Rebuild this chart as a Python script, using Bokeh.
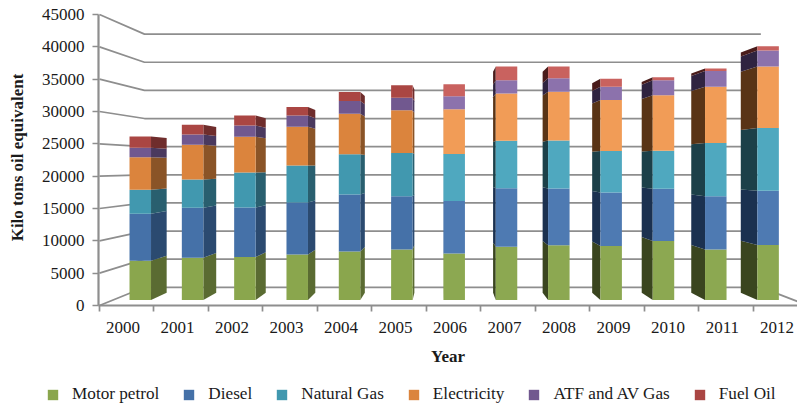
from bokeh.plotting import figure
from bokeh.layouts import column
from bokeh.models import ColumnDataSource, LinearAxis, FixedTicker, Range1d, Legend, LegendItem
from bokeh.embed import file_html
from bokeh.resources import INLINE

years = [str(y) for y in range(2000, 2013)]
motor_petrol = [6298, 6779, 6891, 7324, 7805, 8125, 7484, 8542, 8814, 8702, 9503, 8125, 8862]
diesel       = [7596, 8077, 8013, 8382, 9183, 8590, 8430, 9455, 9135, 8606, 8398, 8590, 8718]
natural_gas  = [3846, 4535, 5609, 5930, 6458, 6955, 7596, 7644, 7741, 6683, 6138, 8558, 10096]
electricity  = [5224, 5609, 5769, 6250, 6523, 6891, 7212, 7612, 7853, 8221, 8926, 9071, 9936]
atf_av_gas   = [1555, 1651, 1811, 1811, 2083, 2019, 2083, 2115, 2148, 2131, 2404, 2516, 2564]
fuel_oil     = [1811, 1555, 1603, 1394, 1442, 1987, 1923, 2212, 1923, 1282, 481, 433, 689]

series = [
    ("Motor petrol", motor_petrol),
    ("Diesel", diesel),
    ("Natural Gas", natural_gas),
    ("Electricity", electricity),
    ("ATF and AV Gas", atf_av_gas),
    ("Fuel Oil", fuel_oil),
]
y_ticks = list(range(0, 45001, 5000))

front_left  = ["#8aa64d", "#4571a8", "#4198af", "#db843d", "#71588f", "#aa4643"]
front_right = ["#8ca851", "#4e7ab2", "#4fa8bf", "#f19c57", "#8c72ac", "#c9625f"]
side_left   = ["#5a6b32", "#2b4a70", "#295f6f", "#8a5427", "#4a395e", "#6f2d2c"]
side_right  = ["#3a451f", "#1b3150", "#1c4049", "#593416", "#2f2340", "#4a1c1b"]
GRID = "#8e8e8e"
FONT = "Liberation Serif"
INK = "#1a1a1a"

# perspective of the 3D box, in data units of the front plane
VX, VY = 6.35, 21640
T_BACK_WALL, T_BAR_FRONT, T_BAR_BACK = 0.13, 0.04, 0.091
BAR_W, BAR_OFF = 0.411, 0.515
N = len(years)

def proj(u, v, t):
    return u + (VX - u) * t, v + (VY - v) * t

p = figure(width=797, height=375, output_backend="svg", toolbar_location=None,
           x_range=Range1d(-0.018, -0.018 + 699 / 54.5), y_range=Range1d(0, 45773),
           min_border_left=98, min_border_right=0, min_border_top=9, min_border_bottom=70,
           x_axis_location=None, y_axis_location=None, outline_line_color=None)
p.grid.visible = False
p.background_fill_color = None
p.border_fill_color = "white"

# walls and floor
wx, wy = [], []
for v in y_ticks:
    a, b, c = proj(0, v, 0), proj(0, v, T_BACK_WALL), proj(N, v, T_BACK_WALL)
    wx.append([a[0], b[0], c[0]])
    wy.append([a[1], b[1], c[1]])
c, d = proj(N, 0, T_BACK_WALL), proj(N, 0, 0)
wx.append([c[0], d[0]])
wy.append([c[1], d[1]])
p.multi_line(wx, wy, line_color=GRID, line_width=1.7)

# bars
bottom = [0] * N
for k, (name, vals) in enumerate(series):
    fx, fy, fc, sx, sy, sc = [], [], [], [], [], []
    for i in range(N):
        lo, hi = bottom[i], bottom[i] + vals[i]
        c0 = i + BAR_OFF
        l, r = c0 - BAR_W / 2, c0 + BAR_W / 2
        right = i >= 6
        pts = [proj(l, lo, T_BAR_FRONT), proj(r, lo, T_BAR_FRONT), proj(r, hi, T_BAR_FRONT), proj(l, hi, T_BAR_FRONT)]
        fx.append([q_[0] for q_ in pts]); fy.append([q_[1] for q_ in pts])
        fc.append(front_right[k] if right else front_left[k])
        e = l if c0 > VX else r
        pts = [proj(e, lo, T_BAR_FRONT), proj(e, lo, T_BAR_BACK), proj(e, hi, T_BAR_BACK), proj(e, hi, T_BAR_FRONT)]
        sx.append([q_[0] for q_ in pts]); sy.append([q_[1] for q_ in pts])
        sc.append(side_right[k] if right else side_left[k])
    p.patches(sx, sy, fill_color=sc, line_color=None)
    p.patches("x", "y", fill_color="c", line_color=None,
              source=ColumnDataSource(dict(x=fx, y=fy, c=fc)))
    bottom = [b + v for b, v in zip(bottom, vals)]

# axes
yax = LinearAxis(ticker=FixedTicker(ticks=y_ticks), bounds=(0, 45000),
                 axis_label="Kilo tons oil equivalent")
yax.axis_line_color = GRID; yax.axis_line_width = 2.2
yax.major_tick_line_color = GRID; yax.major_tick_line_width = 1.7
yax.major_tick_out = 6; yax.major_tick_in = 0; yax.minor_tick_line_color = None
yax.major_label_standoff = 8
yax.major_label_text_font = FONT; yax.major_label_text_font_size = "17px"; yax.major_label_text_color = INK
yax.axis_label_text_font = FONT; yax.axis_label_text_font_size = "17px"
yax.axis_label_text_font_style = "bold"; yax.axis_label_text_color = INK
yax.axis_label_standoff = 12
p.add_layout(yax, "left")

lab_pos = [i + 0.43 for i in range(N)]
lab_ax = LinearAxis(ticker=FixedTicker(ticks=lab_pos, minor_ticks=list(range(N + 1))), axis_label="Year",
                    major_label_overrides={q_: y for q_, y in zip(lab_pos, years)})
lab_ax.axis_line_color = GRID; lab_ax.axis_line_width = 2.2
lab_ax.major_tick_line_color = None
lab_ax.minor_tick_line_color = GRID; lab_ax.minor_tick_line_width = 1.7
lab_ax.minor_tick_out = 6; lab_ax.minor_tick_in = 0
lab_ax.major_tick_out = 6; lab_ax.major_tick_in = 0
lab_ax.major_label_standoff = 10
lab_ax.major_label_text_font = FONT; lab_ax.major_label_text_font_size = "17px"; lab_ax.major_label_text_color = INK
lab_ax.axis_label_text_font = FONT; lab_ax.axis_label_text_font_size = "17px"
lab_ax.axis_label_text_font_style = "bold"; lab_ax.axis_label_text_color = INK
lab_ax.axis_label_standoff = 11
p.add_layout(lab_ax, "below")

# legend strip
q = figure(width=797, height=33, output_backend="svg", toolbar_location=None,
           x_range=Range1d(0, 797), y_range=Range1d(0, 33),
           min_border_left=0, min_border_right=0, min_border_top=0, min_border_bottom=0,
           x_axis_location=None, y_axis_location=None, outline_line_color=None)
q.grid.visible = False
items = []
for k, (name, _) in enumerate(series):
    r = q.patches([[-10, -9, -9]], [[-10, -10, -9]], fill_color=front_left[k], line_color=None)
    items.append(LegendItem(label=name, renderers=[r]))
leg = Legend(items=items, orientation="horizontal", location=(46, 4),
             spacing=23, label_standoff=13, glyph_width=13, glyph_height=13,
             padding=0, margin=0, border_line_color=None, background_fill_alpha=0,
             label_text_font=FONT, label_text_font_size="17.2px", label_text_color=INK)
q.add_layout(leg, "center")

open("out.html", "w").write(file_html(column(p, column(q, spacing=0), spacing=0), INLINE))
